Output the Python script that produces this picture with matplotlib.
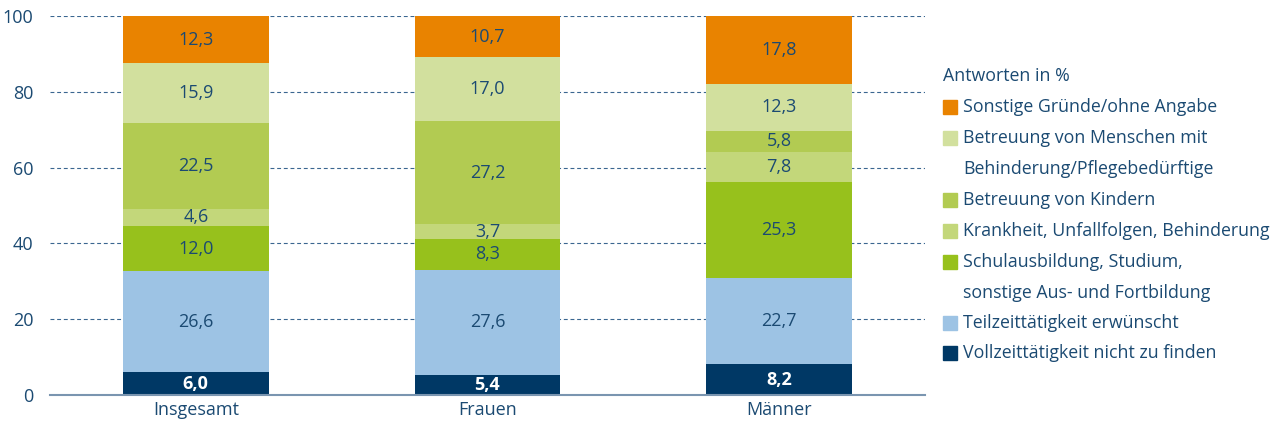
import matplotlib.pyplot as plt
from matplotlib.patches import Rectangle

plt.rcParams['font.family'] = ['Open Sans', 'DejaVu Sans']

# categories and shares (bottom to top)
categories = ['Insgesamt', 'Frauen', 'Männer']
vollzeit = [6.0, 5.4, 8.2]
teilzeit = [26.6, 27.6, 22.7]
schule = [12.0, 8.3, 25.3]
krankheit = [4.6, 3.7, 7.8]
kinder = [22.5, 27.2, 5.8]
pflege = [15.9, 17.0, 12.3]
sonstige = [12.3, 10.7, 17.8]

series = [vollzeit, teilzeit, schule, krankheit, kinder, pflege, sonstige]
labels = ['Vollzeittätigkeit nicht zu finden',
          'Teilzeittätigkeit erwünscht',
          'Schulausbildung, Studium,\nsonstige Aus- und Fortbildung',
          'Krankheit, Unfallfolgen, Behinderung',
          'Betreuung von Kindern',
          'Betreuung von Menschen mit\nBehinderung/Pflegebedürftige',
          'Sonstige Gründe/ohne Angabe']
colors = ['#003865', '#9DC3E4', '#97C11C', '#C3D77A', '#B2CB52', '#D2E09E', '#E98300']

text_col = '#1B4A72'

fig = plt.figure(figsize=(12.81, 4.28), dpi=100)
ax = fig.add_axes([0.039, 0.077, 0.683, 0.8855])

x = range(len(categories))
bottom = [0.0] * len(categories)
for vals, col in zip(series, colors):
    ax.bar(x, vals, bottom=bottom, width=0.5, color=col, zorder=2)
    for i, v in enumerate(vals):
        white = col == '#003865'
        ax.text(i, bottom[i] + v / 2, f'{v:.1f}'.replace('.', ','),
                ha='center', va='center', fontsize=13,
                color='white' if white else text_col,
                fontweight='bold' if white else 'normal', zorder=3)
    bottom = [b + v for b, v in zip(bottom, vals)]

ax.set_xlim(-0.5, 2.5)
ax.set_ylim(0, 100)
ax.set_yticks([0, 20, 40, 60, 80, 100])
ax.set_xticks(list(x))
ax.set_xticklabels(categories)
ax.tick_params(axis='both', length=0, labelsize=13, labelcolor=text_col)
ax.tick_params(axis='y', pad=12)
ax.tick_params(axis='x', pad=4)
for y in [20, 40, 60, 80, 100]:
    ax.axhline(y, color='#3A6690', lw=0.8, ls=(0, (3.5, 2.5)), zorder=1)
for s in ['top', 'right', 'left']:
    ax.spines[s].set_visible(False)
ax.spines['bottom'].set_color('#7A95B0')
ax.spines['bottom'].set_linewidth(1.5)

# legend, drawn by hand (pixel positions from top)
W, H = 1281, 428
fig.text(943 / W, 1 - 76 / H, 'Antworten in %', fontsize=12.8, color=text_col,
         va='center', ha='left')
rows = [107, 138, 200, 231, 262, 323, 353]
for lab, col, r in zip(labels[::-1], colors[::-1], rows):
    fig.patches.append(Rectangle((943 / W, 1 - (r + 7) / H), 14 / W, 14 / H,
                                 transform=fig.transFigure, color=col))
    parts = lab.split('\n')
    for k, p in enumerate(parts):
        fig.text(963 / W, 1 - (r + 31 * k) / H, p, fontsize=12.8, color=text_col,
                 va='center', ha='left')

fig.savefig('out.png', dpi=100)
